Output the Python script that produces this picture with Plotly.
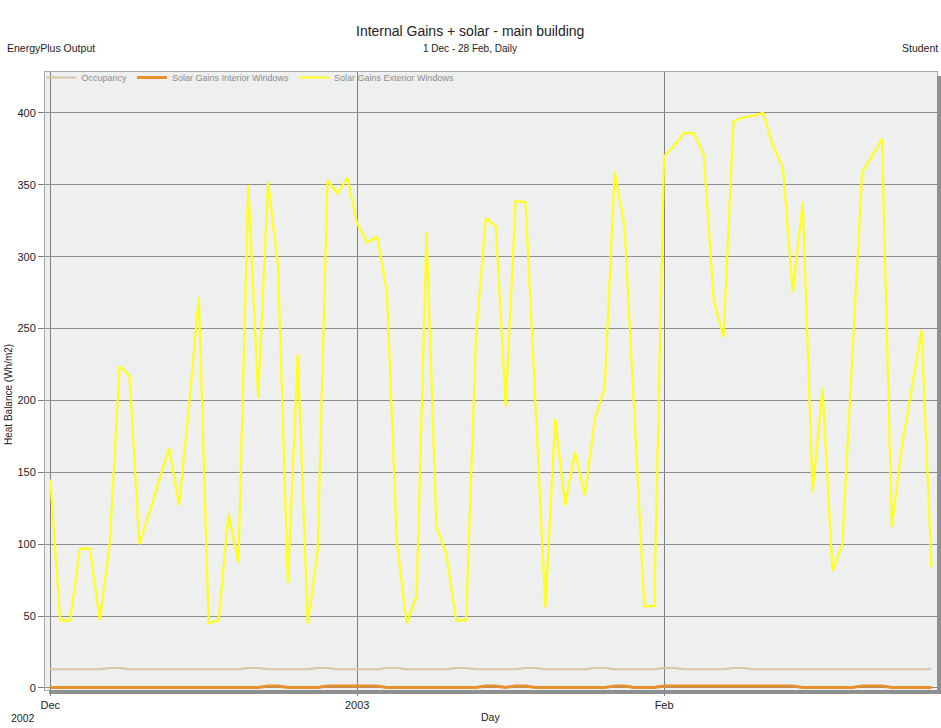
import pandas as pd
import plotly.graph_objects as go

# ---------------- data ----------------
start_date = "2002-12-01"
end_date = "2003-02-28"

solar_exterior = [
    145, 47, 47, 97, 97, 47, 100, 224, 217, 100,
    122, 145, 167, 127, 195, 272, 45, 47, 121, 87,
    350, 202, 352, 294, 73, 232, 45, 95, 353, 344,
    355, 323, 310, 314, 276, 102, 45, 64, 317, 112,
    93, 47, 47, 245, 327, 321, 196, 339, 338, 198,
    56, 187, 127, 164, 134, 187, 209, 359, 321, 190,
    57, 57, 370, 377, 386, 386, 371, 270, 244, 394,
    397, 398, 400, 377, 362, 275, 338, 136, 209, 81,
    100, 230, 359, 370, 382, 112, 167, 208, 249, 84,
]

occupancy = [
    13.0, 13.0, 13.0, 13.0, 13.0, 13.0, 13.9, 13.9, 13.0, 13.0,
    13.0, 13.0, 13.0, 13.0, 13.0, 13.0, 13.0, 13.0, 13.0, 13.0,
    13.9, 13.9, 13.0, 13.0, 13.0, 13.0, 13.0, 13.9, 13.9, 13.0,
    13.0, 13.0, 13.0, 13.0, 13.9, 13.9, 13.0, 13.0, 13.0, 13.0,
    13.0, 13.9, 13.9, 13.0, 13.0, 13.0, 13.0, 13.0, 13.9, 13.9,
    13.0, 13.0, 13.0, 13.0, 13.0, 13.9, 13.9, 13.0, 13.0, 13.0,
    13.0, 13.0, 13.9, 13.9, 13.0, 13.0, 13.0, 13.0, 13.0, 13.9,
    13.9, 13.0, 13.0, 13.0, 13.0, 13.0, 13.0, 13.0, 13.0, 13.0,
    13.0, 13.0, 13.0, 13.0, 13.0, 13.0, 13.0, 13.0, 13.0, 13.0,
]

solar_interior = [
    0.4, 0.4, 0.4, 0.4, 0.4, 0.4, 0.4, 0.4, 0.4, 0.4,
    0.4, 0.4, 0.4, 0.4, 0.4, 0.4, 0.4, 0.4, 0.4, 0.4,
    0.4, 0.4, 1.3, 1.3, 0.4, 0.4, 0.4, 0.4, 1.3, 1.3,
    1.3, 1.3, 1.3, 1.3, 0.4, 0.4, 0.4, 0.4, 0.4, 0.4,
    0.4, 0.4, 0.4, 0.4, 1.3, 1.3, 0.4, 1.3, 1.3, 0.4,
    0.4, 0.4, 0.4, 0.4, 0.4, 0.4, 0.4, 1.3, 1.3, 0.4,
    0.4, 0.4, 1.3, 1.3, 1.3, 1.3, 1.3, 1.3, 1.3, 1.3,
    1.3, 1.3, 1.3, 1.3, 1.3, 1.3, 0.4, 0.4, 0.4, 0.4,
    0.4, 0.4, 1.3, 1.3, 1.3, 0.4, 0.4, 0.4, 0.4, 0.4,
]

y_ticks = [0, 50, 100, 150, 200, 250, 300, 350, 400]
x_tick_dates = ["2002-12-01", "2003-01-01", "2003-02-01"]
x_tick_labels = ["Dec", "2003", "Feb"]

days = pd.date_range(start_date, end_date, freq="D")

# ---------------- layout helpers ----------------
W_FIG, H_FIG = 941, 728
L, R, T, B = 45, 937, 72, 690
PW, PH = R - L, B - T


def px(x):
    return (x - L) / PW


def py(y):
    return (B - y) / PH


FONT = "Liberation Sans, Arial, sans-serif"

fig = go.Figure()
fig.add_trace(go.Scatter(x=days, y=occupancy, mode="lines", name="Occupancy",
                         line=dict(color="#DCC4A6", width=2)))
fig.add_trace(go.Scatter(x=days, y=solar_interior, mode="lines", name="Solar Gains Interior Windows",
                         line=dict(color="#E8902C", width=3)))
fig.add_trace(go.Scatter(x=days, y=solar_exterior, mode="lines", name="Solar Gains Exterior Windows",
                         line=dict(color="#FFFF1A", width=2.2)))

x_range = [pd.Timestamp(start_date) - pd.Timedelta(hours=12.8),
           pd.Timestamp(end_date) + pd.Timedelta(hours=13.5)]

fig.update_layout(
    width=W_FIG, height=H_FIG,
    margin=dict(l=L, r=W_FIG - R, t=T, b=H_FIG - B, pad=0),
    paper_bgcolor="white",
    plot_bgcolor="#EEEFEF",
    font=dict(family=FONT, size=11, color="#222222"),
    showlegend=True,
    legend=dict(orientation="h", x=-0.004, y=1.0 + 9 / PH, xanchor="left", yanchor="top",
                bgcolor="rgba(0,0,0,0)", font=dict(size=9, color="#8C8C8C"),
                itemwidth=30, tracegroupgap=0),
    xaxis=dict(
        type="date", range=x_range,
        tickvals=x_tick_dates, ticktext=x_tick_labels,
        showgrid=True, gridcolor="#7E7E7E", gridwidth=1,
        ticks="outside", ticklen=5, tickcolor="#7E7E7E",
        showline=True, linecolor="#A8A8A8", mirror=True,
        zeroline=False, tickfont=dict(size=11, color="#222222"),
    ),
    yaxis=dict(
        range=[-1.4, 428.5],
        tickvals=y_ticks,
        showgrid=True, gridcolor="#8E8E8E", gridwidth=1,
        ticks="outside", ticklen=6, tickcolor="#7E7E7E",
        showline=True, linecolor="#A8A8A8", mirror=True,
        zeroline=False, tickfont=dict(size=11, color="#222222"),
    ),
)

# frame shadow
fig.add_shape(type="rect", xref="paper", yref="paper",
              x0=px(937), x1=px(941), y0=py(694), y1=py(76),
              fillcolor="#8F8F8F", line=dict(width=0), layer="above")
fig.add_shape(type="rect", xref="paper", yref="paper",
              x0=px(49), x1=px(941), y0=py(694), y1=py(690),
              fillcolor="#8F8F8F", line=dict(width=0), layer="above")

annos = [
    dict(text="Internal Gains + solar - main building", x=px(470), y=py(31), size=14, xanchor="center"),
    dict(text="1 Dec - 28 Feb, Daily", x=px(470), y=py(48), size=10, xanchor="center"),
    dict(text="EnergyPlus Output", x=px(5), y=py(48), size=10.5, xanchor="left"),
    dict(text="Student", x=px(940), y=py(48), size=10.5, xanchor="right"),
    dict(text="2002", x=px(23), y=py(718), size=10.5, xanchor="center"),
    dict(text="Day", x=px(490), y=py(717), size=10.5, xanchor="center"),
]
for a in annos:
    fig.add_annotation(text=a["text"], x=a["x"], y=a["y"], xref="paper", yref="paper",
                       xanchor=a["xanchor"], yanchor="middle", showarrow=False,
                       font=dict(family=FONT, size=a["size"], color="#222222"))

fig.add_annotation(text="Heat Balance (Wh/m2)", x=px(8), y=py(395), xref="paper", yref="paper",
                   textangle=-90, showarrow=False, xanchor="center", yanchor="middle",
                   font=dict(family=FONT, size=10, color="#222222"))

fig.write_html("out.html")
